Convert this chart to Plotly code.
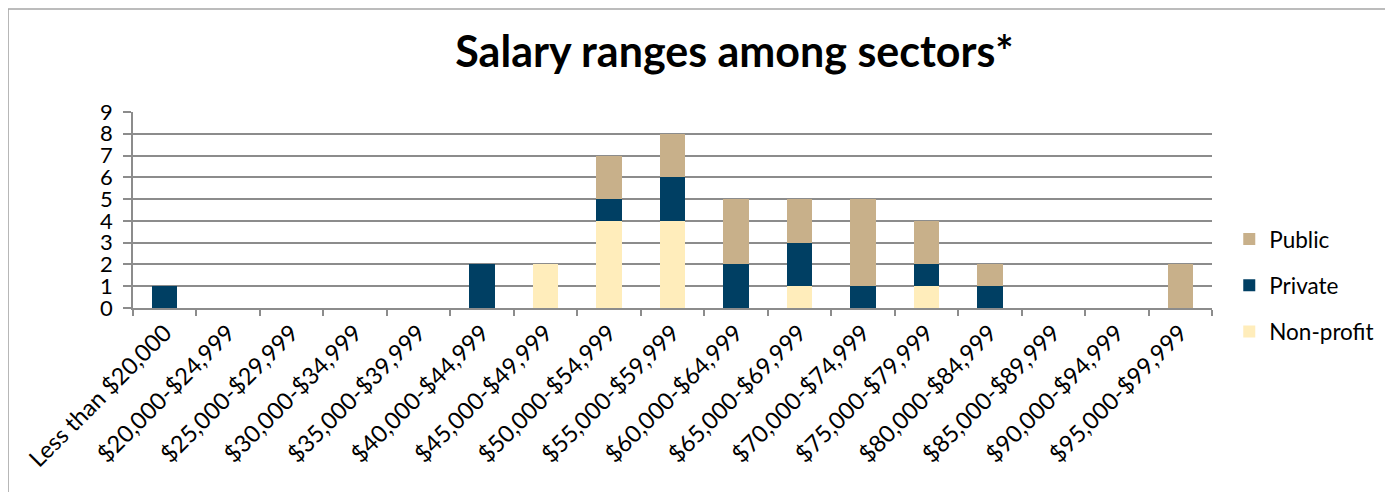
import plotly.graph_objects as go

categories = ['Less than $20,000', '$20,000-$24,999', '$25,000-$29,999', '$30,000-$34,999',
              '$35,000-$39,999', '$40,000-$44,999', '$45,000-$49,999', '$50,000-$54,999',
              '$55,000-$59,999', '$60,000-$64,999', '$65,000-$69,999', '$70,000-$74,999',
              '$75,000-$79,999', '$80,000-$84,999', '$85,000-$89,999', '$90,000-$94,999',
              '$95,000-$99,999']
non_profit = [0, 0, 0, 0, 0, 0, 2, 4, 4, 0, 1, 0, 1, 0, 0, 0, 0]
private = [1, 0, 0, 0, 0, 2, 0, 1, 2, 2, 2, 1, 1, 1, 0, 0, 0]
public = [0, 0, 0, 0, 0, 0, 0, 2, 2, 3, 2, 4, 2, 1, 0, 0, 2]

series = [('Non-profit', non_profit, '#FFEDBB'),
          ('Private', private, '#003F63'),
          ('Public', public, '#C8B08A')]

fig = go.Figure()
for i, (name, vals, color) in enumerate(series):
    fig.add_trace(go.Bar(x=categories, y=vals, name=name, legendgroup=name,
                         legendrank=1000 - i,
                         marker=dict(color=color, line=dict(width=0))))

font = 'Lato, Open Sans, sans-serif'
fig.update_layout(
    barmode='stack',
    bargap=0.6,
    width=1393, height=492,
    margin=dict(l=125, r=189, t=104, b=192, autoexpand=False),
    paper_bgcolor='white', plot_bgcolor='white',
    font=dict(family=font, size=20, color='black'),
    title=dict(text='<b>Salary ranges among sectors*</b>', x=0.5215, xanchor='center',
               y=0.91, yanchor='middle', font=dict(size=43, family=font)),
    legend=dict(x=1.016, xanchor='left', y=0.115, yanchor='middle',
                traceorder='grouped', tracegroupgap=14, font=dict(size=22.5)),
    showlegend=True,
)
fig.update_xaxes(tickangle=-45, tickfont=dict(size=23.5), showline=True, linecolor='#8c8c8c',
                 linewidth=1.5, ticks='outside', tickson='boundaries', ticklen=6,
                 tickcolor='#8c8c8c', tickwidth=1.5, showgrid=False, automargin=False)
fig.update_yaxes(range=[0, 9], dtick=1, showgrid=True, gridcolor='#8c8c8c', gridwidth=1.5,
                 showline=True, linecolor='#8c8c8c', linewidth=1.5, ticks='outside',
                 ticklen=8, tickcolor='#8c8c8c', tickwidth=1.5, zeroline=False,
                 tickfont=dict(size=22), ticklabelstandoff=6, automargin=False)
fig.add_shape(type='rect', xref='paper', yref='paper', x0=-0.1158, x1=1.25, y0=-1.0, y1=1.5255,
              line=dict(color='#a6a6a6', width=1.5), layer='below')

fig.write_html('out.html')
